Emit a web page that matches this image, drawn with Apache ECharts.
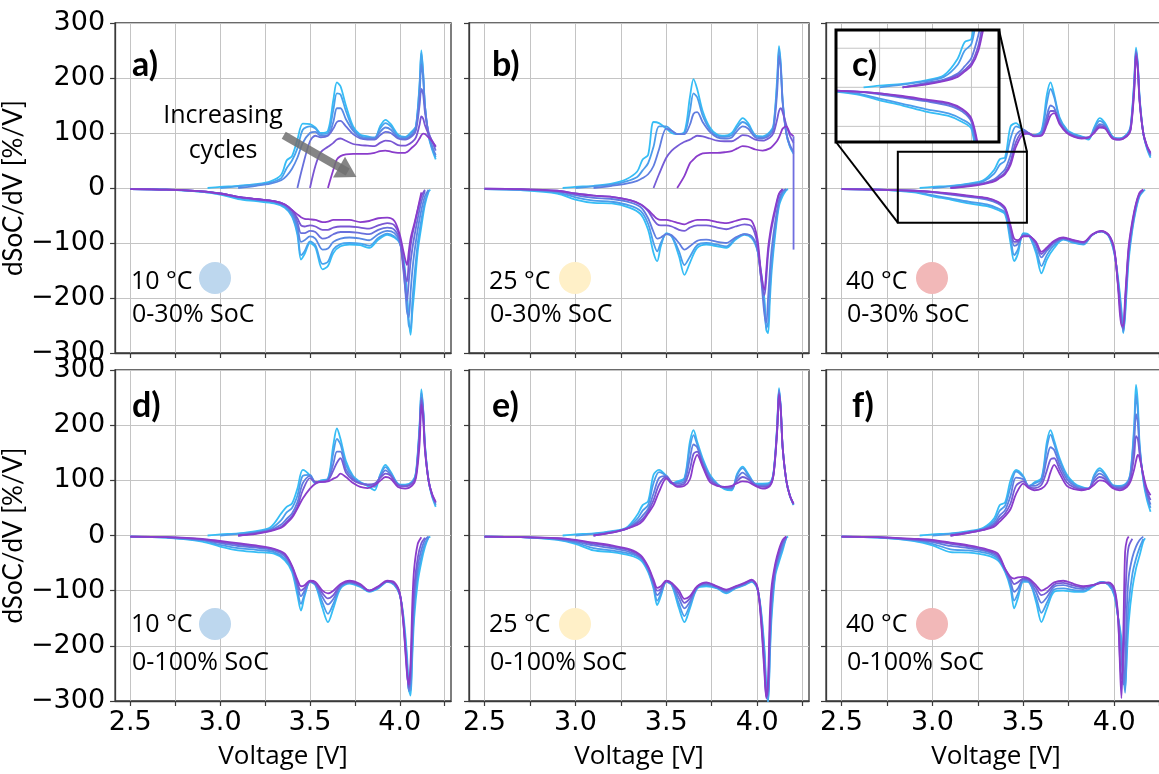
<!DOCTYPE html>
<html>
<head>
<meta charset="utf-8">
<script src="https://cdn.jsdelivr.net/npm/echarts@6.0.0/dist/echarts.min.js"></script>
<style>
html,body{margin:0;padding:0;background:#fff;overflow:hidden;width:1159px;height:774px;}
#chart{width:1172px;height:774px;}
</style>
</head>
<body>
<div id="chart"></div>
<script>
const _ = null;
// voltage grids (V)
const CV = [2.93,3.00,3.10,3.20,3.28,3.34,3.37,3.40,3.43,3.46,3.50,3.53,3.56,3.60,3.63,3.65,3.67,3.70,3.74,3.78,3.82,3.86,3.89,3.92,3.95,3.99,4.03,4.07,4.09,4.11,4.12,4.13,4.14,4.16,4.18,4.20];
const DV = [2.50,2.70,2.90,3.00,3.10,3.20,3.30,3.36,3.40,3.43,3.45,3.47,3.50,3.53,3.57,3.60,3.63,3.67,3.72,3.78,3.83,3.88,3.93,3.97,4.00,4.02,4.04,4.05,4.06,4.07,4.08,4.10,4.12,4.14,4.16,4.17];

// a) 10 °C, 0-30% SoC
const A_CH0 = [0,2,4,7,12,24,50,58,88,117,116,110,100,104,160,192,185,150,112,97,94,90,112,124,116,97,93,104,112,190,250,210,150,95,70,52];
const A_CH1 = [_,0,3,6,10,18,36,50,72,106,112,108,98,100,142,172,170,140,108,95,92,92,108,118,112,95,92,102,112,185,245,208,150,96,72,56];
const A_CH2 = [_,_,0,4,8,14,22,35,55,82,100,102,95,96,120,145,145,125,104,92,90,90,102,110,106,92,90,98,110,170,225,200,148,98,76,60];
const A_CH3 = [_,_,_,_,_,_,_,_,0,40,85,95,92,95,108,120,122,112,98,90,88,88,96,102,100,90,88,95,105,150,180,170,138,102,84,68];
const A_CH4 = [_,_,_,_,_,_,_,_,_,_,0,40,65,75,82,88,90,86,80,78,77,76,82,86,85,78,77,84,92,115,130,126,114,98,86,74];
const A_CH5 = [_,_,_,_,_,_,_,_,_,_,_,_,_,0,33,52,58,61,62,62,62,64,67,68,66,64,64,74,80,90,96,99,98,92,85,76];
const A_DC0 = [-2,-3,-7,-12,-20,-24,-28,-36,-52,-85,-130,-120,-100,-108,-148,-142,-118,-106,-103,-104,-109,-94,-85,-90,-100,-125,-190,-240,-267,-225,-190,-115,-70,-30,-7,-3];
const A_DC1 = [-2,-3,-7,-11,-18,-22,-26,-34,-50,-80,-122,-115,-97,-104,-138,-134,-112,-102,-100,-101,-105,-91,-83,-88,-100,-130,-205,-250,-255,-205,-165,-100,-58,-25,-5,_];
const A_DC2 = [-2,-3,-6,-10,-17,-21,-25,-32,-46,-70,-98,-95,-88,-92,-112,-110,-98,-92,-90,-92,-95,-84,-78,-82,-98,-140,-225,-235,-190,-150,-120,-75,-40,-15,-3,_];
const A_DC3 = [-2,-3,-6,-10,-16,-20,-24,-30,-42,-62,-82,-82,-78,-80,-92,-90,-84,-80,-80,-82,-84,-76,-72,-76,-96,-150,-205,-170,-135,-110,-90,-55,-25,-6,_,_];
const A_DC4 = [-2,-3,-6,-10,-16,-20,-24,-30,-40,-55,-68,-70,-68,-70,-76,-76,-72,-70,-70,-72,-74,-68,-64,-68,-90,-140,-170,-135,-105,-85,-70,-40,-15,-3,_,_];
const A_DC5 = [-2,-3,-6,-10,-16,-20,-24,-30,-40,-48,-53,-56,-57,-58,-62,-61,-58,-58,-58,-62,-60,-55,-54,-60,-85,-115,-140,-115,-92,-78,-66,-38,-8,_,_,_];

// b) 25 °C, 0-30% SoC
const B_CH0 = [0,2,4,8,16,30,52,60,120,118,108,100,98,102,165,198,180,140,110,97,95,100,115,127,118,96,94,102,115,200,258,225,160,100,75,62];
const B_CH1 = [_,0,3,6,12,20,32,45,75,112,112,104,98,100,140,172,165,132,106,95,93,96,110,120,114,95,92,100,112,190,252,220,158,100,76,64];
const B_CH2 = [_,_,0,4,8,13,18,25,40,70,108,104,98,98,115,135,138,120,102,92,90,92,104,112,108,92,90,96,108,175,240,215,155,100,78,66];
const B_CH3 = [_,_,_,_,_,_,_,_,0,25,55,68,76,84,88,92,95,94,90,86,85,85,90,96,95,88,86,92,100,125,140,145,138,115,95,82];
const B_CH4 = [_,_,_,_,_,_,_,_,_,_,_,_,0,22,45,52,58,63,64,64,65,67,72,76,75,70,68,72,78,86,92,100,108,112,100,94];
const B_DC0 = [-2,-4,-10,-21,-27,-28,-36,-48,-76,-118,-133,-106,-82,-88,-124,-158,-136,-109,-103,-106,-109,-94,-85,-91,-112,-150,-203,-258,-264,-203,-150,-82,-33,-15,-4,-2];
const B_DC1 = [-2,-3,-8,-17,-23,-25,-32,-42,-65,-100,-115,-100,-84,-88,-115,-140,-125,-104,-100,-103,-106,-92,-84,-89,-110,-155,-215,-255,-245,-185,-135,-72,-28,-10,-3,_];
const B_DC2 = [-2,-3,-6,-13,-18,-20,-26,-35,-55,-80,-92,-90,-84,-86,-100,-112,-106,-96,-94,-98,-100,-90,-84,-88,-110,-160,-230,-245,-200,-150,-110,-60,-22,-6,-2,_];
const B_DC3 = [-1,-2,-5,-10,-14,-16,-22,-30,-42,-58,-66,-68,-68,-70,-76,-78,-72,-68,-68,-72,-75,-70,-66,-70,-100,-160,-195,-165,-120,-92,-72,-40,-12,-2,_,_];
const B_DC4 = [-1,-2,-5,-10,-14,-16,-22,-30,-40,-50,-56,-58,-58,-60,-64,-66,-62,-58,-58,-62,-64,-60,-56,-60,-90,-150,-185,-150,-110,-85,-65,-35,-10,-2,_,_];
const B_TAIL_V = [4.2, 4.2];
const B_TAIL_Y = [94, -112];

// c) 40 °C, 0-30% SoC
const C_CH0 = [0,2,4,8,14,33,52,56,112,118,104,98,96,104,170,192,170,128,106,98,94,88,110,127,118,94,90,98,112,195,255,225,165,100,72,55];
const C_CH1 = [_,0,3,7,12,26,42,50,90,112,106,99,96,102,155,180,165,126,105,97,93,90,108,122,115,93,90,97,110,190,250,222,162,100,74,58];
const C_CH2 = [_,_,0,5,9,16,24,34,60,96,106,100,95,98,132,150,146,120,102,95,92,92,104,116,112,92,89,96,108,185,248,220,160,100,75,60];
const C_CH3 = [_,_,0,4,8,14,20,28,48,84,102,100,95,96,122,140,140,118,101,94,91,92,102,113,110,91,88,95,106,180,245,218,158,100,76,62];
const C_CH4 = [_,_,0,3,7,12,18,25,42,75,98,99,94,95,115,132,136,116,100,93,90,92,100,110,108,90,88,94,105,175,240,215,156,100,77,64];
const C_DC0 = [-2,-3,-8,-15,-21,-28,-33,-40,-48,-100,-133,-120,-82,-85,-118,-155,-130,-109,-94,-100,-103,-85,-79,-88,-118,-160,-221,-264,-233,-179,-130,-76,-39,-15,-6,-3];
const C_DC1 = [-2,-3,-7,-13,-19,-25,-30,-37,-45,-90,-122,-112,-84,-86,-112,-142,-122,-104,-93,-99,-102,-85,-79,-87,-116,-165,-230,-262,-225,-170,-122,-72,-36,-13,-5,_];
const C_DC2 = [-2,-3,-5,-8,-12,-16,-21,-28,-40,-78,-105,-102,-86,-86,-104,-126,-114,-100,-92,-97,-100,-85,-79,-86,-114,-170,-240,-258,-215,-160,-115,-68,-32,-11,-4,_];
const C_DC3 = [-2,-3,-5,-7,-11,-15,-19,-26,-38,-72,-98,-98,-87,-87,-100,-120,-110,-98,-91,-96,-99,-85,-79,-86,-112,-172,-245,-255,-210,-155,-110,-64,-30,-10,-3,_];
const C_DC4 = [-2,-3,-5,-7,-10,-14,-18,-25,-36,-68,-92,-95,-88,-88,-98,-116,-108,-96,-90,-95,-98,-84,-78,-85,-110,-175,-250,-250,-200,-150,-105,-60,-28,-8,-3,_];

// d) 10 °C, 0-100% SoC
const D_CH0 = [0,2,4,8,15,40,52,58,85,119,109,94,100,103,164,194,175,135,108,97,90,82,110,128,115,94,92,98,115,200,265,230,165,100,70,52];
const D_CH1 = [_,0,3,6,12,28,42,50,72,108,110,96,99,102,150,175,165,128,106,96,92,88,108,124,113,93,91,97,112,195,258,228,163,100,72,55];
const D_CH2 = [_,_,0,5,10,20,30,40,60,95,108,97,98,101,130,152,152,120,103,95,92,92,106,118,110,92,90,96,110,190,250,225,160,100,73,58];
const D_CH3 = [_,_,0,4,9,16,25,35,52,82,104,97,97,100,118,132,140,114,100,94,92,94,104,112,108,91,89,95,108,185,245,222,158,100,74,60];
const D_CH4 = [_,_,0,3,8,14,22,32,49,67,85,94,97,98,103,106,112,106,95,88,86,91,99,106,103,88,85,91,104,165,237,212,155,100,75,61];
const D_DC0 = [-2,-4,-11,-20,-27,-30,-33,-45,-66,-108,-136,-110,-84,-90,-132,-157,-132,-96,-87,-93,-102,-96,-84,-90,-108,-145,-217,-278,-290,-217,-150,-84,-48,-21,-4,-2];
const D_DC1 = [-2,-4,-9,-17,-23,-26,-30,-42,-62,-100,-124,-106,-84,-89,-122,-142,-124,-94,-86,-92,-101,-95,-84,-89,-108,-150,-228,-282,-280,-200,-130,-70,-38,-15,-3,_];
const D_DC2 = [-2,-3,-8,-14,-19,-22,-27,-38,-58,-92,-110,-100,-84,-88,-112,-125,-115,-92,-85,-91,-100,-94,-83,-88,-106,-155,-238,-280,-265,-180,-112,-56,-26,-8,-2,_];
const D_DC3 = [-2,-3,-7,-12,-16,-20,-25,-35,-56,-86,-100,-95,-83,-87,-105,-114,-108,-90,-84,-90,-100,-93,-83,-87,-105,-158,-245,-275,-245,-160,-95,-40,-14,-4,_,_];
const D_DC4 = [-2,-3,-6,-10,-14,-18,-24,-33,-55,-80,-92,-90,-82,-84,-100,-105,-100,-88,-82,-88,-100,-92,-82,-85,-105,-160,-250,-270,-230,-120,-60,-15,-3,_,_,_];

// e) 25 °C, 0-100% SoC
const E_CH0 = [0,2,4,8,14,37,55,62,110,119,108,94,98,104,170,191,170,140,110,94,84,82,112,125,112,94,94,96,115,200,267,230,160,100,72,55];
const E_CH1 = [_,0,3,7,13,30,45,55,95,115,108,95,96,102,160,182,165,136,108,93,86,84,110,122,110,93,92,95,113,198,264,228,160,100,72,56];
const E_CH2 = [_,_,0,6,12,25,36,48,76,104,108,96,94,98,140,165,160,132,105,92,87,86,104,114,106,92,90,93,112,195,262,228,160,100,72,57];
const E_CH3 = [_,_,0,5,12,22,30,43,64,92,106,96,91,94,120,148,152,128,101,91,88,88,99,106,102,91,88,91,111,192,258,226,160,100,72,57];
const E_CH4 = [_,_,0,5,12,19,26,40,55,79,103,95,88,90,102,130,146,125,97,90,88,90,95,98,97,90,85,90,110,190,255,225,160,100,72,58];
const E_DC0 = [-2,-3,-8,-15,-27,-30,-36,-45,-66,-96,-126,-110,-84,-90,-132,-157,-132,-96,-92,-96,-105,-96,-90,-84,-96,-132,-205,-272,-302,-217,-145,-72,-48,-27,-5,-2];
const E_DC1 = [-2,-3,-7,-13,-23,-27,-33,-42,-63,-92,-118,-106,-84,-89,-124,-146,-126,-95,-90,-95,-103,-95,-89,-83,-95,-136,-215,-280,-300,-205,-132,-66,-42,-22,-4,_];
const E_DC2 = [-2,-3,-6,-11,-18,-23,-30,-40,-60,-88,-108,-101,-83,-88,-114,-132,-120,-94,-88,-94,-101,-94,-88,-82,-94,-140,-228,-288,-290,-190,-118,-60,-36,-16,-3,_];
const E_DC3 = [-2,-3,-5,-9,-15,-20,-27,-38,-58,-84,-100,-97,-83,-87,-106,-122,-114,-93,-86,-93,-99,-93,-87,-81,-93,-145,-240,-292,-275,-170,-104,-55,-30,-11,-2,_];
const E_DC4 = [-2,-3,-5,-8,-13,-18,-25,-36,-56,-80,-95,-92,-82,-86,-100,-115,-110,-92,-85,-92,-98,-92,-86,-80,-92,-150,-250,-295,-260,-140,-90,-50,-25,-8,-2,_];

// f) 40 °C, 0-100% SoC
const F_CH0 = [0,2,4,8,14,31,55,60,100,119,108,88,96,104,170,191,172,140,110,95,88,85,110,122,112,92,90,96,115,200,273,240,165,100,65,43];
const F_CH1 = [_,0,3,7,12,26,45,54,88,116,106,90,94,102,160,183,166,136,107,93,87,85,108,118,110,91,89,95,113,190,255,225,160,103,70,50];
const F_CH2 = [_,_,0,6,11,22,36,46,72,105,102,90,90,98,140,160,155,128,102,90,85,85,103,112,106,90,87,93,110,170,220,205,155,105,75,56];
const F_CH3 = [_,_,0,5,10,19,30,40,58,90,98,88,86,92,118,138,140,120,96,87,84,85,98,106,102,88,85,91,104,145,180,175,148,108,80,64];
const F_CH4 = [_,_,0,5,10,16,25,35,48,75,94,86,82,85,95,115,128,112,90,84,82,85,92,100,98,86,82,88,98,120,135,146,140,110,85,73];
const F_DC0 = [-2,-4,-10,-18,-30,-31,-36,-45,-66,-96,-132,-114,-84,-84,-120,-157,-132,-102,-100,-102,-102,-93,-84,-90,-108,-145,-187,-229,-278,-217,-157,-96,-60,-36,-11,-5];
const F_DC1 = [-2,-4,-9,-15,-25,-27,-32,-42,-64,-90,-118,-106,-82,-84,-112,-140,-122,-98,-96,-99,-100,-92,-84,-89,-106,-145,-200,-250,-285,-190,-125,-70,-42,-22,-6,_];
const F_DC2 = [-2,-3,-8,-12,-19,-23,-29,-39,-62,-84,-102,-96,-80,-82,-102,-122,-112,-93,-90,-95,-97,-91,-85,-88,-102,-145,-220,-270,-240,-130,-75,-40,-20,-8,-2,_];
const F_DC3 = [-2,-3,-7,-10,-15,-20,-27,-36,-61,-78,-88,-85,-78,-80,-95,-108,-103,-89,-86,-91,-94,-90,-86,-86,-98,-142,-260,-240,-130,-50,-20,-6,_,_,_,_];
const F_DC4 = [-2,-3,-6,-8,-13,-18,-25,-33,-60,-75,-78,-76,-75,-78,-90,-100,-95,-85,-82,-88,-92,-90,-86,-85,-95,-140,-295,-180,-30,-8,-2,_,_,_,_,_];

// axes / labels
const X_TICKS = [2.5,2.75,3.0,3.25,3.5,3.75,4.0,4.25];
const X_LABELS = [2.5,3.0,3.5,4.0];
const PANEL_LETTERS = ['a)','b)','c)','d)','e)','f)'];
const TEMPS = ['10 °C','25 °C','40 °C','10 °C','25 °C','40 °C'];
const SOC = ['0-30% SoC','0-30% SoC','0-30% SoC','0-100% SoC','0-100% SoC','0-100% SoC'];
const ZOOM_X = [2.81, 3.52];
const ZOOM_Y = [-63, 66];
const INSET_XGRID = [3.0, 3.2, 3.4];
const INSET_YGRID = [-45, 0, 45];
const ARROW = [[3.354, 96], [3.71, 29]];

// ---------- layout & style ----------
const GRIDS = [
  {left:111, top:23, width:340, height:330},
  {left:469, top:23, width:340, height:330},
  {left:826, top:23, width:340, height:330},
  {left:111, top:370, width:340, height:331},
  {left:469, top:370, width:340, height:331},
  {left:826, top:370, width:340, height:331},
  {left:836, top:30, width:163, height:112}
];
const AX = '#3a3a3a', GRIDC = '#c4c4c4';
const TXT_FONT = 'Open Sans';
const CIRCLE_COLORS = ['#BDD7EE','#FFF0C8','#F2B8B8'];
const LETTER_DX = [21, 23, 26];
const CIRCLE_DX = [104, 106, 106];
const C0 = [54,189,245], C1 = [138,60,203];
function curveColor(k, n){
  const t = n > 1 ? k/(n-1) : 0;
  const c = C0.map((a,i)=>Math.round(a + (C1[i]-a)*t));
  return 'rgb(' + c.join(',') + ')';
}
function pts(xs, ys){
  const out = [];
  for (let i=0;i<xs.length;i++){ if (ys[i] !== null) out.push([xs[i], ys[i]]); }
  return out;
}
const PANELS = [
  {ch:[A_CH0,A_CH1,A_CH2,A_CH3,A_CH4,A_CH5], dc:[A_DC0,A_DC1,A_DC2,A_DC3,A_DC4,A_DC5]},
  {ch:[B_CH0,B_CH1,B_CH2,B_CH3,B_CH4], dc:[B_DC0,B_DC1,B_DC2,B_DC3,B_DC4]},
  {ch:[C_CH0,C_CH1,C_CH2,C_CH3,C_CH4], dc:[C_DC0,C_DC1,C_DC2,C_DC3,C_DC4]},
  {ch:[D_CH0,D_CH1,D_CH2,D_CH3,D_CH4], dc:[D_DC0,D_DC1,D_DC2,D_DC3,D_DC4]},
  {ch:[E_CH0,E_CH1,E_CH2,E_CH3,E_CH4], dc:[E_DC0,E_DC1,E_DC2,E_DC3,E_DC4]},
  {ch:[F_CH0,F_CH1,F_CH2,F_CH3,F_CH4], dc:[F_DC0,F_DC1,F_DC2,F_DC3,F_DC4]}
];

function lineSeries(axisIdx, data, col, z){
  return {type:'line', xAxisIndex:axisIdx, yAxisIndex:axisIdx, data:data, showSymbol:false, symbol:'none',
    smooth:0.3, lineStyle:{width:1.8, color:col}, itemStyle:{color:col}, z:z, silent:true, animation:false};
}
const series = [];
PANELS.forEach((p, pi)=>{
  const n = p.ch.length;
  for (let k=0;k<n;k++){
    const col = curveColor(k, n);
    series.push(lineSeries(pi, pts(CV, p.ch[k]), col, 2));
    series.push(lineSeries(pi, pts(DV, p.dc[k]), col, 2));
  }
});
series.push(lineSeries(1, pts(B_TAIL_V, B_TAIL_Y), 'rgb(112,110,224)', 2));
// inset (zoom of panel c)
{
  const p = PANELS[2], n = p.ch.length;
  for (let k=0;k<n;k++){
    const col = curveColor(k, n);
    series.push(lineSeries(6, pts(CV, p.ch[k]), col, 3));
    series.push(lineSeries(6, pts(DV, p.dc[k]), col, 3));
  }
}
series[0].markLine = {
  silent:true, animation:false, symbol:['none','triangle'], symbolSize:[24,20],
  label:{show:false}, lineStyle:{color:'#707070', width:8, type:'solid', opacity:0.85},
  itemStyle:{color:'#707070', opacity:0.85},
  data:[[{coord:ARROW[0]},{coord:ARROW[1]}]]
};

const fmtX = v => (Math.abs(v*2 - Math.round(v*2)) > 1e-6 ? '' : v.toFixed(1));
const fmtY = v => (v < 0 ? '\u2212' + Math.abs(v) : String(v));
const xAxes = [], yAxes = [];
for (let i=0;i<6;i++){
  const bottom = i >= 3, left = i % 3 === 0;
  xAxes.push({type:'value', gridIndex:i, min:2.415, max:4.285, minInterval:0.25, maxInterval:0.25,
    axisLine:{show:true, onZero:false, lineStyle:{color:AX, width:1.3}},
    axisTick:{show:true, inside:false, length:5, customValues:X_TICKS, lineStyle:{color:AX, width:1.2}},
    axisLabel:{show:bottom, customValues:X_LABELS, margin:8, formatter:fmtX, fontFamily:'DejaVu Sans', fontSize:27, color:'#000'},
    splitLine:{show:true, lineStyle:{color:GRIDC, width:1}},
    name: bottom ? 'Voltage [V]' : '', nameLocation:'middle', nameGap:43,
    nameTextStyle:{fontFamily:TXT_FONT, fontSize:26, color:'#000'}});
  yAxes.push({type:'value', gridIndex:i, min:-300, max:300, interval:100,
    axisLine:{show:true, onZero:false, lineStyle:{color:AX, width:1.3}},
    axisTick:{show:true, inside:false, length:5, lineStyle:{color:AX, width:1.2}},
    axisLabel:{show:left, margin:10, formatter:fmtY, fontFamily:'DejaVu Sans', fontSize:27, color:'#000'},
    splitLine:{show:true, lineStyle:{color:GRIDC, width:1}},
    name: left ? 'dSoC/dV [%/V]' : '', nameLocation:'middle', nameGap:66, nameRotate:90,
    nameTextStyle:{fontFamily:'Lato', fontSize:26, color:'#000'}});
}
xAxes.push({type:'value', gridIndex:6, min:ZOOM_X[0], max:ZOOM_X[1], show:false, splitLine:{show:false}});
yAxes.push({type:'value', gridIndex:6, min:ZOOM_Y[0], max:ZOOM_Y[1], show:false, splitLine:{show:false}});

const chart = echarts.init(document.getElementById('chart'), null, {renderer:'canvas'});
chart.setOption({
  animation:false,
  backgroundColor:'#fff',
  grid: GRIDS.map((g,i)=>Object.assign({show: i<6, borderColor:AX, borderWidth:1.3, backgroundColor:'transparent', containLabel:false}, g)),
  xAxis: xAxes,
  yAxis: yAxes,
  series: series
});

// ---------- annotations ----------
const els = [];
GRIDS.slice(0,6).forEach((g,i)=>{
  const col = i % 3, row = i < 3 ? 0 : 1;
  const letterY = row === 0 ? 65 : 406;
  const t1 = row === 0 ? 282 : 625, t2 = row === 0 ? 315 : 663, cy = row === 0 ? 278 : 624;
  els.push({type:'text', x:g.left + LETTER_DX[col], y:letterY, z:20,
    style:{text:PANEL_LETTERS[i], font:'bold 34px Lato', fill:'#000', textAlign:'left', textVerticalAlign:'middle'}});
  els.push({type:'text', x:g.left + 20, y:t1, z:20,
    style:{text:TEMPS[i], font:'25px "' + TXT_FONT + '"', fill:'#000', textAlign:'left', textVerticalAlign:'middle'}});
  els.push({type:'text', x:g.left + 21, y:t2, z:20,
    style:{text:SOC[i], font:'25px "' + TXT_FONT + '"', fill:'#000', textAlign:'left', textVerticalAlign:'middle'}});
  els.push({type:'circle', z:20, shape:{cx:g.left + CIRCLE_DX[col], cy:cy, r:16}, style:{fill:CIRCLE_COLORS[col]}});
});
els.push({type:'text', x:223, y:116, z:20, style:{text:'Increasing', font:'25px "' + TXT_FONT + '"', fill:'#000', textAlign:'center', textVerticalAlign:'middle'}});
els.push({type:'text', x:223, y:151, z:20, style:{text:'cycles', font:'25px "' + TXT_FONT + '"', fill:'#000', textAlign:'center', textVerticalAlign:'middle'}});

// inset box
const IN = GRIDS[6];
els.push({type:'rect', z:1, shape:{x:IN.left, y:IN.top, width:IN.width, height:IN.height}, style:{fill:'#fff'}});
INSET_XGRID.forEach(v=>{
  const a = chart.convertToPixel({gridIndex:6}, [v, ZOOM_Y[0]]);
  const b = chart.convertToPixel({gridIndex:6}, [v, ZOOM_Y[1]]);
  els.push({type:'line', z:2, shape:{x1:a[0], y1:a[1], x2:b[0], y2:b[1]}, style:{stroke:GRIDC, lineWidth:1}});
});
INSET_YGRID.forEach(v=>{
  const a = chart.convertToPixel({gridIndex:6}, [ZOOM_X[0], v]);
  const b = chart.convertToPixel({gridIndex:6}, [ZOOM_X[1], v]);
  els.push({type:'line', z:2, shape:{x1:a[0], y1:a[1], x2:b[0], y2:b[1]}, style:{stroke:GRIDC, lineWidth:1}});
});
els.push({type:'rect', z:6, shape:{x:IN.left, y:IN.top, width:IN.width, height:IN.height}, style:{fill:null, stroke:'#000', lineWidth:3}});
const zTL = chart.convertToPixel({gridIndex:2}, [ZOOM_X[0], ZOOM_Y[1]]);
const zBR = chart.convertToPixel({gridIndex:2}, [ZOOM_X[1], ZOOM_Y[0]]);
els.push({type:'rect', z:6, shape:{x:zTL[0], y:zTL[1], width:zBR[0]-zTL[0], height:zBR[1]-zTL[1]}, style:{fill:null, stroke:'#000', lineWidth:2}});
els.push({type:'line', z:6, shape:{x1:IN.left, y1:IN.top+IN.height, x2:zTL[0], y2:zBR[1]}, style:{stroke:'#000', lineWidth:2}});
els.push({type:'line', z:6, shape:{x1:IN.left+IN.width, y1:IN.top, x2:zBR[0], y2:zTL[1]}, style:{stroke:'#000', lineWidth:2}});

chart.setOption({graphic:{elements:els}});
</script>
</body>
</html>
